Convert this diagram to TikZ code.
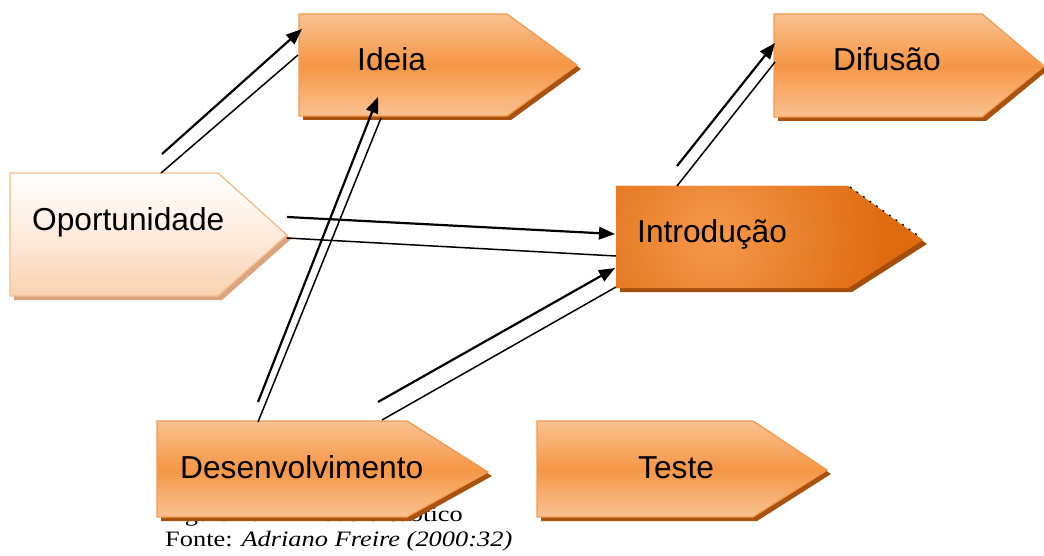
\documentclass[tikz,border=0pt]{standalone}
\usepackage{fontspec}
\setmainfont{Liberation Serif}
\newfontfamily\arialf{Liberation Sans}
\usetikzlibrary{arrows.meta}
\definecolor{oLight}{HTML}{F9C291}
\definecolor{oMid}{HTML}{F59645}
\definecolor{oBorder}{HTML}{F39A4E}
\definecolor{oShadow}{HTML}{A9520F}
\definecolor{pTop}{HTML}{FFFFFF}
\definecolor{pMid}{HTML}{FDEBDD}
\definecolor{pBot}{HTML}{F8D2B0}
\definecolor{pBorder}{HTML}{F6BC8C}
\definecolor{pShadow}{HTML}{D9A47E}
\definecolor{iOuter}{HTML}{DF6B10}
\definecolor{iInner}{HTML}{F4984A}
\definecolor{iShadow}{HTML}{A54D0A}
\newcommand\penta[8]{%
  \begin{scope}[shift={(4,4)}]
    \fill[#2] (#3,#4) -- (#6,#4) -- (#7,#8) -- (#6,#5) -- (#3,#5) -- cycle;
  \end{scope}
  \path[#1] (#3,#4) -- (#6,#4) -- (#7,#8) -- (#6,#5) -- (#3,#5) -- cycle;}
\begin{document}
\begin{tikzpicture}[x=1pt,y=-1pt,
  stdshape/.style={draw=oBorder, line width=1.3pt, top color=oLight, bottom color=oLight, middle color=oMid},
  stdshadow/.style={fill=oShadow},
  opshape/.style={draw=pBorder, line width=1.3pt, top color=pTop, bottom color=pBot, middle color=pMid},
  opshadow/.style={fill=pShadow},
  lbl/.style={font=\arialf\fontsize{31.7}{36}\selectfont, inner sep=0pt, anchor=base west},
  captxt/.style={font=\fontsize{22}{26}\selectfont, inner sep=0pt, xscale=1.2},
  conA/.style={line width=2.2pt, -{Triangle[length=16pt,width=12.5pt]}},
  conB/.style={line width=1.5pt}]
\useasboundingbox (0,0) rectangle (1044,556);

% caption (partly hidden behind Desenvolvimento)
\node[captxt, anchor=base east] (capfig) at (463,521) {Figura 2.1 – Modelo caótico};
\node[captxt, anchor=base west] (capsrc) at (165,546) {Fonte: \textit{Adriano Freire (2000:32)}};

% shapes
\penta{stdshape}{stdshadow}{299}{14}{116}{507}{577}{65}
\penta{stdshape}{stdshadow}{774}{14}{117}{982}{1044}{66}
\penta{opshape}{opshadow}{10}{173}{296}{218}{287}{235}
\penta{stdshape}{stdshadow}{157}{421}{517}{407}{488}{472}
\penta{stdshape}{stdshadow}{537}{421}{517}{753}{827}{470}
% Introducao (radial)
\begin{scope}[shift={(4,4)}]
  \fill[iShadow] (616,186) -- (848,186) -- (923,240) -- (848,288) -- (616,288) -- cycle;
\end{scope}
\fill[iOuter] (616,186) -- (848,186) -- (923,240) -- (848,288) -- (616,288) -- cycle;
\begin{scope}
  \clip (616,186) -- (848,186) -- (923,240) -- (848,288) -- (616,288) -- cycle;
  \shade[inner color=iInner, outer color=iOuter] (715,236) circle (170);
\end{scope}
\draw[black, dash pattern=on 2pt off 6pt, line width=1.3pt] (850,187) -- (920,237);

% labels
\node[lbl] (tIdeia) at (357,71) {Ideia};
\node[lbl] (tDif) at (833,71) {Difusão};
\node[lbl] (tOp) at (32,230) {Oportunidade};
\node[lbl] (tIntro) at (637,242) {Introdução};
\node[lbl] (tDes) at (180,478) {Desenvolvimento};
\node[lbl] (tTeste) at (638,478) {Teste};

% connector end points
\coordinate (op1) at (162,154);   \coordinate (id1) at (302,29);
\coordinate (op2) at (161,173);   \coordinate (id2) at (298,55);
\coordinate (op3) at (287,217);   \coordinate (in3) at (615,234);
\coordinate (op4) at (287,238);   \coordinate (in4) at (616,256);
\coordinate (de5) at (258,402);   \coordinate (id5) at (378,97);
\coordinate (de6) at (258,422);   \coordinate (id6) at (381,118);
\coordinate (de7) at (378,402);   \coordinate (in7) at (615,268);
\coordinate (de8) at (382,420);   \coordinate (in8) at (616,287);
\coordinate (in9) at (677,166);   \coordinate (di9) at (775,43);
\coordinate (in10) at (677,186);  \coordinate (di10) at (775,62);

\draw[conA] (op1) -- (id1);
\draw[conB] (op2) -- (id2);
\draw[conA] (op3) -- (in3);
\draw[conB] (op4) -- (in4);
\draw[conA] (de5) -- (id5);
\draw[conB] (de6) -- (id6);
\draw[conA] (de7) -- (in7);
\draw[conB] (de8) -- (in8);
\draw[conA] (in9) -- (di9);
\draw[conB] (in10) -- (di10);
\end{tikzpicture}
\end{document}
